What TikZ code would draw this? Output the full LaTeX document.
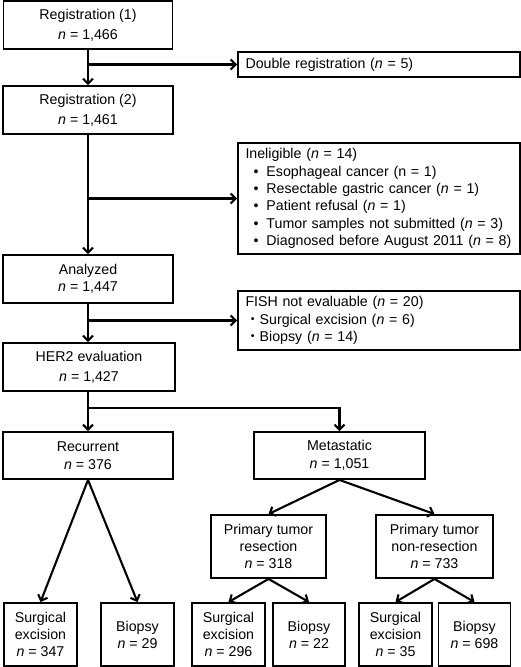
\documentclass[tikz,border=0pt]{standalone}
\usepackage{fontspec}
\setmainfont{Liberation Sans}
\newfontfamily\cjk{Noto Sans CJK JP}
\usetikzlibrary{arrows.meta}
\newcommand{\nn}{\textit{n}}
\newcommand{\blt}{\hspace*{8bp}\makebox[13bp][l]{•}}
\begin{document}
\begin{tikzpicture}[x=1bp,y=-1bp,
  box/.style={draw, line width=1.9bp, inner sep=0pt, align=center,
    font=\fontsize{14.2bp}{17bp}\selectfont},
  tallbox/.style={box, font=\fontsize{14.2bp}{20bp}\selectfont},
  midbox/.style={box, font=\fontsize{14.2bp}{18bp}\selectfont},
  sidebox/.style={box, align=left, text width=267bp, inner xsep=7.5bp,
    font=\fontsize{14.2bp}{17.3bp}\selectfont},
  arr/.style={draw, line width=2.1bp, -{Straight Barb[length=5bp,width=10bp]}}]
\useasboundingbox[fill=white] (0,0) rectangle (521,667);
% main column
\node[tallbox, minimum width=169bp, minimum height=48bp] (reg1) at (88,25) {Registration (1)\\\nn{} = 1,466};
\node[tallbox, minimum width=170bp, minimum height=48bp] (reg2) at (88,110) {Registration (2)\\\nn{} = 1,461};
\node[box, minimum width=170bp, minimum height=48bp] (anal) at (88,279) {Analyzed\\\nn{} = 1,447};
\node[tallbox, minimum width=172bp, minimum height=48bp] (her2) at (89,367) {HER2 evaluation\\\nn{} = 1,427};
% side boxes
\node[sidebox, minimum height=25bp] (dbl) at (379,64.5) {Double registration (\nn{} = 5)};
\node[sidebox, minimum height=111bp] (inel) at (379,198.5) {Ineligible (\nn{} = 14)\\
\mbox{\blt Esophageal cancer (n = 1)}\\
\mbox{\blt Resectable gastric cancer (\nn{} = 1)}\\
\mbox{\blt Patient refusal (\nn{} = 1)}\\
\mbox{\blt Tumor samples not submitted (\nn{} = 3)}\\
\mbox{\blt Diagnosed before August 2011 (\nn{} = 8)}};
\node[sidebox, minimum height=59bp] (fish) at (379,320.5) {FISH not evaluable (\nn{} = 20)\\
\mbox{{\cjk ・}Surgical excision (\nn{} = 6)}\\
\mbox{{\cjk ・}Biopsy (\nn{} = 14)}};
% second level
\node[midbox, minimum width=170bp, minimum height=47bp] (rec) at (88,455.5) {Recurrent\\\nn{} = 376};
\node[midbox, minimum width=171bp, minimum height=47bp] (meta) at (339.5,455.5) {Metastatic\\\nn{} = 1,051};
\node[box, minimum width=115bp, minimum height=63bp] (ptr) at (268.5,546.5) {Primary tumor\\resection\\\nn{} = 318};
\node[box, minimum width=117bp, minimum height=63bp] (ptn) at (434.5,546.5) {Primary tumor\\non-resection\\\nn{} = 733};
% bottom boxes
\node[box, minimum width=73bp, minimum height=63bp] (b1) at (40.5,634.5) {Surgical\\excision\\\nn{} = 347};
\node[box, minimum width=73bp, minimum height=63bp] (b2) at (137.5,634.5) {Biopsy\\\nn{} = 29};
\node[box, minimum width=73bp, minimum height=63bp] (b3) at (228.5,634.5) {Surgical\\excision\\\nn{} = 296};
\node[box, minimum width=72bp, minimum height=63bp] (b4) at (309,634.5) {Biopsy\\\nn{} = 22};
\node[box, minimum width=73bp, minimum height=63bp] (b5) at (395.5,634.5) {Surgical\\excision\\\nn{} = 35};
\node[box, minimum width=72bp, minimum height=63bp] (b6) at (474.5,634.5) {Biopsy\\\nn{} = 698};
% connectors
\draw[arr] (reg1.south) -- (reg2.north);
\draw[arr] (reg1.south |- dbl.west) -- (dbl.west);
\draw[arr] (reg2.south) -- (anal.north);
\draw[arr] (reg2.south |- inel.west) -- (inel.west);
\draw[arr] (anal.south) -- (her2.north -| anal.south);
\draw[arr] (anal.south |- fish.west) -- (fish.west);
\coordinate (br) at (88,408);
\draw[arr] (her2.south -| rec.north) -- (rec.north);
\draw[arr] (br) -| (meta.north);
\draw[arr] (rec.south) -- (b1.north);
\draw[arr] (rec.south) -- (b2.north);
\draw[arr] (meta.south) -- (ptr.north);
\draw[arr] (meta.south) -- (ptn.north);
\draw[arr] (ptr.south) -- (b3.north);
\draw[arr] (ptr.south) -- (b4.north);
\draw[arr] (ptn.south) -- (b5.north);
\draw[arr] (ptn.south) -- (b6.north);
\end{tikzpicture}
\end{document}
